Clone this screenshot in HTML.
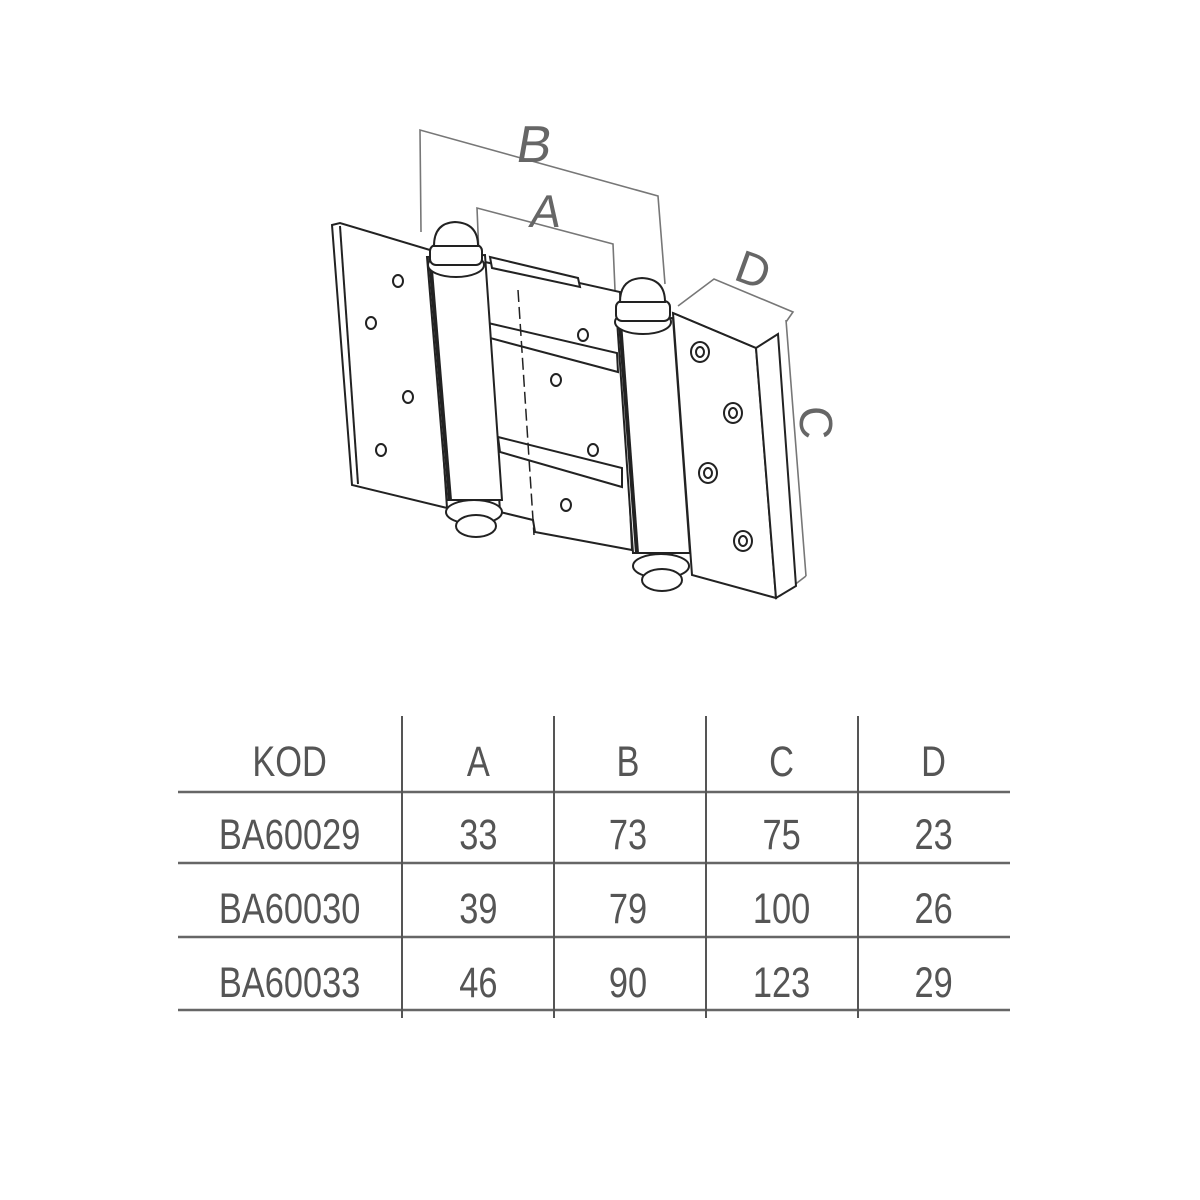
<!DOCTYPE html>
<html><head><meta charset="utf-8"><style>
html,body{margin:0;padding:0;background:#fff;}
svg{display:block}
</style></head><body>
<svg width="1200" height="1200" viewBox="0 0 1200 1200" xmlns="http://www.w3.org/2000/svg">
<rect width="1200" height="1200" fill="#fff"/>
<g fill="none" stroke="#777" stroke-width="1.6">
 <polyline points="421,232 420,130 658,196 665,284"/>
 <polyline points="479,256 477,208 613,244 615,290"/>
 <polyline points="678,306 714,279 793,312 786,322"/>
 <line x1="786" y1="320" x2="806" y2="576"/>
 <line x1="780" y1="596" x2="806" y2="576"/>
</g>
<g font-family="Liberation Sans, sans-serif" fill="#666" font-size="52">
 <text x="515" y="162" transform="skewX(-10) translate(28,0)">B</text>
 <text x="528" y="227" font-size="46" transform="skewX(-10) translate(40,0)">A</text>
 <text x="737" y="288" font-size="46" transform="rotate(20 760 270)">D</text>
 <text x="796" y="470" font-size="46" transform="rotate(90 815 455) translate(-30,0)">C</text>
</g>
<g fill="#fff" stroke="#222" stroke-width="2">
 <polygon points="332,225 340,223 430,250 447,508 352,485"/>
 <line x1="340" y1="226" x2="358" y2="484"/>
 <!-- right leaf -->
 <polygon points="673,313 756,348 776,598 692,575"/>
 <polygon points="756,348 778,334 796,586 776,598"/>
 <line x1="673" y1="313" x2="756" y2="348"/>
 <!-- center plate -->
 <polygon points="485,262 620,292 632,550 535,532 533,520 500,512"/>
 <polygon points="490,257 578,278 580,287 492,268"/>
 <polygon points="488,323 617,353 618,372 490,338"/>
 <polygon points="498,437 622,468 622,487 500,452"/>
 <line x1="518" y1="290" x2="534" y2="535" stroke-dasharray="12 5" stroke-width="1.5"/>
 <!-- left barrel -->
 <polygon points="427,257 485,255 502,500 447,500"/>
 <line x1="430" y1="258" x2="450" y2="500" stroke-width="4"/>
 <ellipse cx="474" cy="512" rx="28" ry="12"/>
 <ellipse cx="476" cy="526" rx="20" ry="11"/>
 <ellipse cx="456" cy="265" rx="28" ry="12"/>
 <rect x="430" y="245" width="52" height="20" rx="6"/>
 <path d="M434,246 Q434,223 455,222 Q478,223 478,246 Z"/>
 <!-- right barrel -->
 <polygon points="617,320 673,318 690,553 633,553"/>
 <line x1="620" y1="322" x2="637" y2="553" stroke-width="4"/>
 <ellipse cx="661" cy="566" rx="28" ry="12"/>
 <ellipse cx="662" cy="580" rx="20" ry="11"/>
 <ellipse cx="643" cy="322" rx="28" ry="12"/>
 <rect x="616" y="301" width="54" height="20" rx="6"/>
 <path d="M620,302 Q620,279 642,278 Q665,279 665,302 Z"/>
</g>
<g fill="none" stroke="#222" stroke-width="2">
 <ellipse cx="398" cy="281" rx="5" ry="6"/>
 <ellipse cx="371" cy="323" rx="5" ry="6"/>
 <ellipse cx="408" cy="397" rx="5" ry="6"/>
 <ellipse cx="381" cy="450" rx="5" ry="6"/>
 <ellipse cx="583" cy="335" rx="5" ry="6"/>
 <ellipse cx="556" cy="380" rx="5" ry="6"/>
 <ellipse cx="593" cy="450" rx="5" ry="6"/>
 <ellipse cx="566" cy="505" rx="5" ry="6"/>
 <ellipse cx="700" cy="352" rx="9" ry="10"/><ellipse cx="700" cy="352" rx="4" ry="5"/>
 <ellipse cx="733" cy="413" rx="9" ry="10"/><ellipse cx="733" cy="413" rx="4" ry="5"/>
 <ellipse cx="708" cy="473" rx="9" ry="10"/><ellipse cx="708" cy="473" rx="4" ry="5"/>
 <ellipse cx="743" cy="541" rx="9" ry="10"/><ellipse cx="743" cy="541" rx="4" ry="5"/>
</g>
<g stroke="#666" stroke-width="2.5">
 <line x1="178" y1="792" x2="1010" y2="792"/>
 <line x1="178" y1="863" x2="1010" y2="863"/>
 <line x1="178" y1="937" x2="1010" y2="937"/>
 <line x1="178" y1="1010" x2="1010" y2="1010"/>
</g>
<g stroke="#555" stroke-width="2">
 <line x1="402" y1="716" x2="402" y2="1018"/>
 <line x1="554" y1="716" x2="554" y2="1018"/>
 <line x1="706" y1="716" x2="706" y2="1018"/>
 <line x1="858" y1="716" x2="858" y2="1018"/>
</g>
<g font-family="Liberation Sans, sans-serif" fill="#555" font-size="43" text-anchor="middle">
 <g transform="scale(0.8,1)">
  <text x="362" y="776">KOD</text>
  <text x="598" y="776">A</text>
  <text x="785" y="776">B</text>
  <text x="977" y="776">C</text>
  <text x="1167" y="776">D</text>
  <text x="362" y="849">BA60029</text>
  <text x="598" y="849">33</text>
  <text x="785" y="849">73</text>
  <text x="977" y="849">75</text>
  <text x="1167" y="849">23</text>
  <text x="362" y="923">BA60030</text>
  <text x="598" y="923">39</text>
  <text x="785" y="923">79</text>
  <text x="977" y="923">100</text>
  <text x="1167" y="923">26</text>
  <text x="362" y="997">BA60033</text>
  <text x="598" y="997">46</text>
  <text x="785" y="997">90</text>
  <text x="977" y="997">123</text>
  <text x="1167" y="997">29</text>
 </g>
</g>
</svg>
</body></html>
